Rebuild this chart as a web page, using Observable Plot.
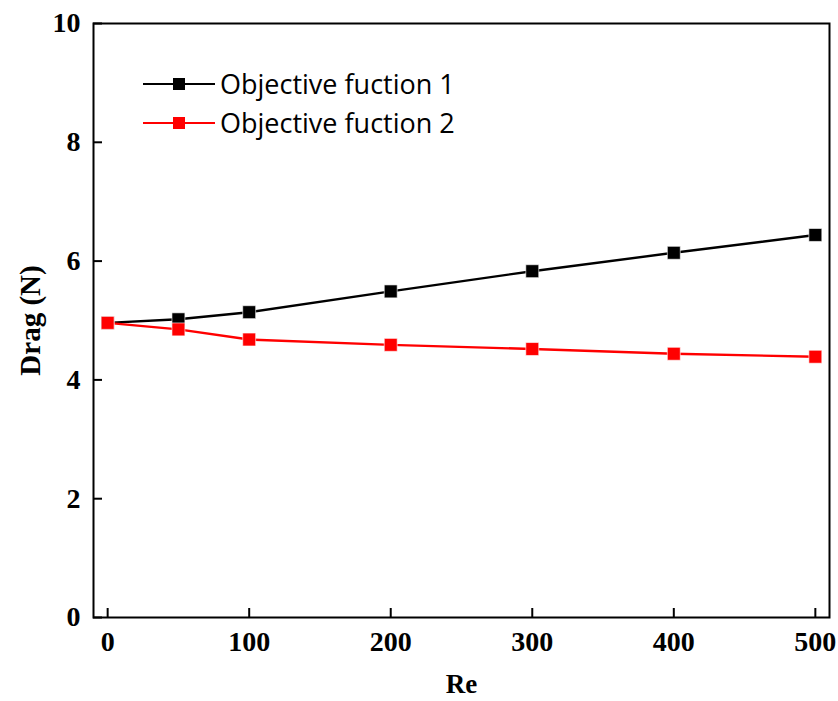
<!DOCTYPE html>
<html><head><meta charset="utf-8">
<script src="https://cdn.jsdelivr.net/npm/d3@7"></script>
<script src="https://cdn.jsdelivr.net/npm/@observablehq/plot@0.6"></script>
<style>
body{margin:0;background:#fff}
#wrap{position:relative;width:838px;height:701px;background:#fff}
#legend{position:absolute;left:143px;top:64px;font-family:"Open Sans",sans-serif;font-size:27px;color:#000}
.row{display:flex;align-items:center;height:39px}
.row svg{display:block;margin-right:5px}
</style></head><body><div id="wrap"><div id="legend"></div></div>
<script>
const re = [0, 50, 100, 200, 300, 400, 500];
const obj1 = [4.96, 5.02, 5.14, 5.49, 5.83, 6.14, 6.44];
const obj2 = [4.96, 4.85, 4.68, 4.59, 4.52, 4.44, 4.39];
const seriesNames = ["Objective fuction 1", "Objective fuction 2"];
const seriesColors = ["#000000", "#ff0000"];
const xTicks = [0, 100, 200, 300, 400, 500];
const yTicks = [0, 2, 4, 6, 8, 10];
const xLabel = "Re";
const yLabel = "Drag (N)";

const data = [
  ...re.map((x, i) => ({re: x, drag: obj1[i], s: seriesNames[0]})),
  ...re.map((x, i) => ({re: x, drag: obj2[i], s: seriesNames[1]}))
];

const serif = "'Liberation Serif', 'DejaVu Serif', serif";
const fs = 28;
const chart = Plot.plot({
  width: 838, height: 701,
  marginLeft: 93, marginRight: 9, marginTop: 23, marginBottom: 84,
  style: {fontFamily: serif, fontWeight: "bold", fontSize: fs + "px", color: "#000", background: "#fff"},
  x: {domain: [-10, 510]},
  y: {domain: [0, 10]},
  color: {domain: seriesNames, range: seriesColors},
  marks: [
    Plot.axisX(xTicks, {tickSize: -9, tickPadding: 23, tickFormat: d3.format("d"), label: null, strokeWidth: 2, fontSize: fs, fontWeight: "bold", fontFamily: serif}),
    Plot.axisY(yTicks, {tickSize: -9, tickPadding: 22, tickFormat: d3.format("d"), label: null, strokeWidth: 2, fontSize: fs, fontWeight: "bold", fontFamily: serif}),
    Plot.frame({stroke: "#000", strokeWidth: 2}),
    Plot.line(data, {x: "re", y: "drag", z: "s", stroke: "s", strokeWidth: 2.4}),
    Plot.dot(data, {x: "re", y: "drag", fill: "s", symbol: "square", r: 7.3, stroke: "white", strokeWidth: 0.6}),
    Plot.text([xLabel], {frameAnchor: "bottom", dy: 67, textAnchor: "middle", lineAnchor: "middle", fontSize: 27, fontWeight: "bold", fontFamily: serif}),
    Plot.text([yLabel], {frameAnchor: "left", dx: -63, rotate: -90, textAnchor: "middle", lineAnchor: "middle", fontSize: 29, fontWeight: "bold", fontFamily: serif})
  ]
});
document.getElementById("wrap").prepend(chart);

const leg = document.getElementById("legend");
seriesNames.forEach((name, i) => {
  const row = document.createElement("div");
  row.className = "row";
  row.innerHTML = `<svg width="72" height="14"><line x1="0" x2="72" y1="7" y2="7" stroke="${seriesColors[i]}" stroke-width="2.2"/><rect x="30" y="1" width="12" height="12" fill="${seriesColors[i]}"/></svg><span>${name}</span>`;
  leg.appendChild(row);
});
</script></body></html>
